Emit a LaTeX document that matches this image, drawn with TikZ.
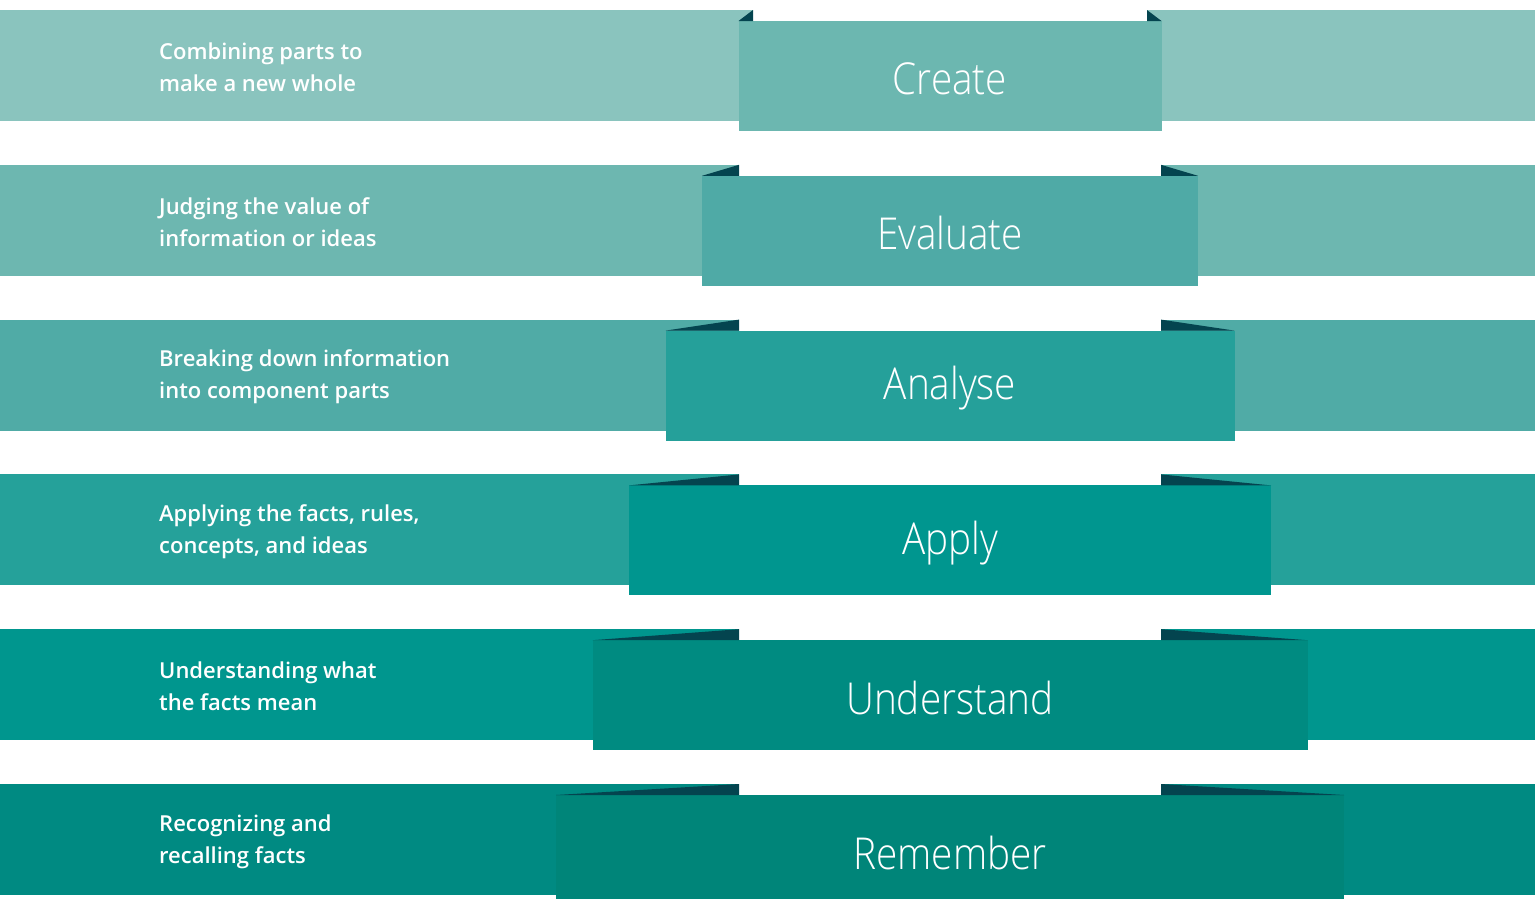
\documentclass[tikz,border=0pt]{standalone}
\usepackage{fontspec}
\setmainfont{Open Sans}
\newfontfamily\semifont{Open Sans Semibold}
\newfontfamily\lightfont{Open Sans Light}[FakeStretch=0.88]
\definecolor{bandA}{HTML}{8AC4BE}
\definecolor{bandB}{HTML}{6DB7B0}
\definecolor{bandC}{HTML}{50ABA6}
\definecolor{bandD}{HTML}{25A19A}
\definecolor{bandE}{HTML}{00968E}
\definecolor{bandF}{HTML}{008A82}
\definecolor{panA}{HTML}{6CB7B0}
\definecolor{panB}{HTML}{4FAAA6}
\definecolor{panC}{HTML}{25A09A}
\definecolor{panD}{HTML}{00968F}
\definecolor{panE}{HTML}{008B81}
\definecolor{panF}{HTML}{008579}
\definecolor{fold}{HTML}{04444F}
\tikzset{
  desc/.style={anchor=west, text=white, align=left, font=\semifont\fontsize{22}{32}\selectfont, inner sep=0pt},
  level/.style={text=white, font=\lightfont\fontsize{44}{50}\selectfont, inner sep=0pt},
}
\begin{document}
\begin{tikzpicture}[x=1pt,y=-1pt]
\useasboundingbox (0,0) rectangle (1535,898);
\foreach \i/\hw/\bc/\pc/\lx/\rx/\lab/\txt in {
  0/211.5/bandA/panA/753/1147/Create/{Combining parts to\\make a new whole},
  1/248/bandB/panB/739/1161/Evaluate/{Judging the value of\\information or ideas},
  2/284.5/bandC/panC/739/1161/Analyse/{Breaking down information\\into component parts},
  3/321/bandD/panD/739/1161/Apply/{Applying the facts, rules,\\concepts, and ideas},
  4/357.5/bandE/panE/739/1161/Understand/{Understanding what\\the facts mean},
  5/394/bandF/panF/739/1161/Remember/{Recognizing and\\recalling facts}} {
  \pgfmathsetmacro{\t}{10+154.8*\i}
  \pgfmathsetmacro{\b}{\t+111}
  \pgfmathsetmacro{\pl}{950-\hw}
  \pgfmathsetmacro{\pr}{950+\hw}
  \fill[\bc] (0,\t) rectangle (\lx,\b);
  \fill[\bc] (\rx,\t) rectangle (1535,\b);
  \fill[\pc] (\pl,\t+11) rectangle (\pr,\b+10);
  \fill[fold] (\pl,\t+11) -- (\lx,\t) -- (\lx,\t+11) -- cycle;
  \fill[fold] (\pr,\t+11) -- (\rx,\t) -- (\rx,\t+11) -- cycle;
  \node[level] (lv\i) at (950,\t+68.5) {\lab};
  \node[desc] (ds\i) at (159,\t+57.5) {\txt};
}
\end{tikzpicture}
\end{document}
